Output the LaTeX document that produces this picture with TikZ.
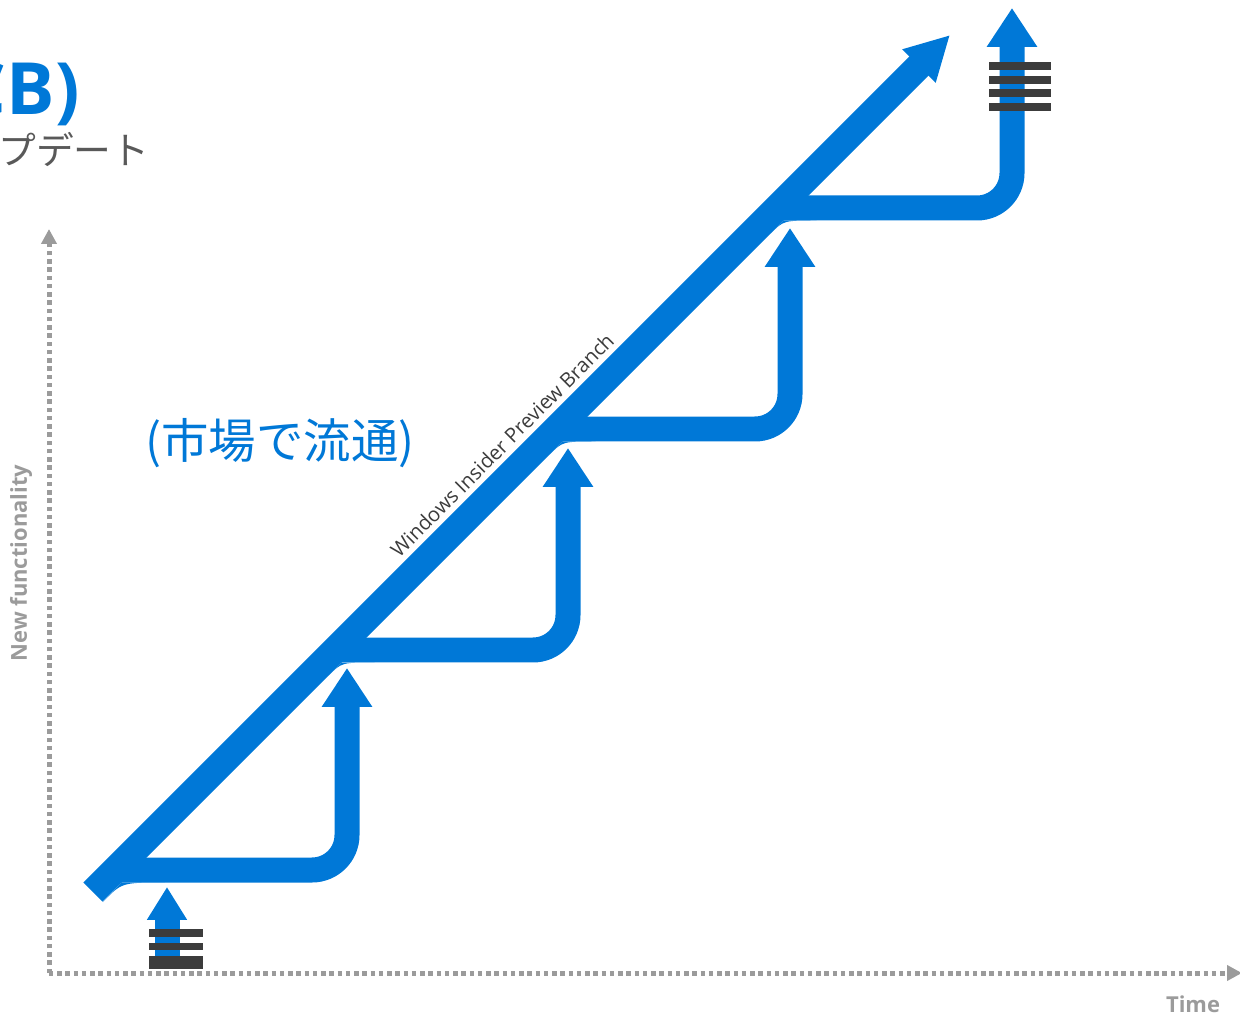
\documentclass[tikz,border=0pt]{standalone}
\usepackage{fontspec}
\setmainfont{Open Sans}
\newfontfamily\jpfont{Noto Sans CJK JP}
\usetikzlibrary{arrows.meta}

\definecolor{winblue}{HTML}{0078D7}
\definecolor{bargray}{HTML}{3C3C3C}
\definecolor{axisgray}{HTML}{9B9B9B}
\definecolor{textgray}{HTML}{595959}

\tikzset{
  release/.style={draw=winblue, line width=0.5cm, rounded corners=0.7cm,
    -{Triangle[length=0.78cm, width=0.96cm]}},
  fillet/.style={fill=winblue, draw=none},
  axisline/.style={draw=axisgray, line width=0.1cm, dash pattern=on 0.09cm off 0.075cm,
    -{Triangle[length=0.3cm, width=0.3cm]}},
  stackbar/.style={fill=bargray, draw=none},
  axislabel/.style={text=axisgray, font=\bfseries\fontsize{12.5}{14}\selectfont, inner sep=0pt},
}

\begin{document}
\begin{tikzpicture}[x=0.02cm, y=0.02cm]
  \clip (0,0) rectangle (1240,1015);
  \useasboundingbox (0,0) rectangle (1240,1015);

  % Titulo (cortado)
  \node[anchor=east, inner sep=0pt, text=winblue, font=\bfseries\fontsize{41}{44}\selectfont] (title) at (80,921) {CB)};
  \node[anchor=west, inner sep=0pt, text=textgray, font=\jpfont\fontsize{21.5}{23}\selectfont] (subtitle) at (-2,866) {プデート};

  % Eixos
  \coordinate (origin) at (49,42);
  \coordinate (yend) at (49,786);
  \coordinate (xend) at (1242,42);
  \draw[axisline] (origin) -- (yend);
  \draw[axisline] (origin) -- (xend);
  \node[axislabel, rotate=90] (ylabel) at (21,452) {New functionality};
  \node[axislabel] (xlabel) at (1193,11) {Time};

  % Windows Insider Preview Branch
  \coordinate (wipStart) at (93,123);
  \coordinate (wipEnd) at (950,980);
  \draw[winblue, line width=0.54cm, -{Triangle[length=0.88cm, width=0.88cm]}] (wipStart) -- (wipEnd);
  \node[rotate=45, text=bargray, font=\fontsize{11.5}{13}\selectfont] (wiplabel) at (502,570) {Windows Insider Preview Branch};
  \node[text=winblue, font=\jpfont\fontsize{27}{29}\selectfont] (market) at (280,572) {(市場で流通)};

  % Ramos
  \coordinate (relA) at (115,145);
  \coordinate (relB) at (335,365);
  \coordinate (relC) at (556,586);
  \coordinate (relD) at (777,807);
  \draw[release] (relA) -- (347,145) -- (347,347);
  \draw[release] (relB) -- (568,365) -- (568,567);
  \draw[release] (relC) -- (790,586) -- (790,787);
  \draw[release] (relD) -- (1012,807) -- (1012,1007);

  % Curvas de juncao
  \fill[fillet] (103,113) .. controls (121.6,132.5) .. (165,132.5) -- (121.6,132.5) -- cycle;
  \fill[fillet] (328.6,339.5) .. controls (341.6,352.5) .. (374.6,352.5) -- (341.6,352.5) -- cycle;
  \fill[fillet] (549.6,560.5) .. controls (562.6,573.5) .. (595.6,573.5) -- (562.6,573.5) -- cycle;
  \fill[fillet] (770.6,781.5) .. controls (783.6,794.5) .. (816.6,794.5) -- (783.6,794.5) -- cycle;

  % Entrada
  \coordinate (inBase) at (167,59);
  \coordinate (inTip) at (167,128);
  \draw[winblue, line width=0.5cm, -{Triangle[length=0.66cm, width=0.76cm]}] (inBase) -- (inTip);

  % Pilhas
  \fill[stackbar] (149,78) rectangle (203,86);
  \fill[stackbar] (149,65) rectangle (203,72);
  \fill[stackbar] (149,46) rectangle (203,59);

  \fill[stackbar] (989,945) rectangle (1051,953);
  \fill[stackbar] (989,931) rectangle (1051,939);
  \fill[stackbar] (989,918) rectangle (1051,926);
  \fill[stackbar] (989,904) rectangle (1051,912);
\end{tikzpicture}
\end{document}
